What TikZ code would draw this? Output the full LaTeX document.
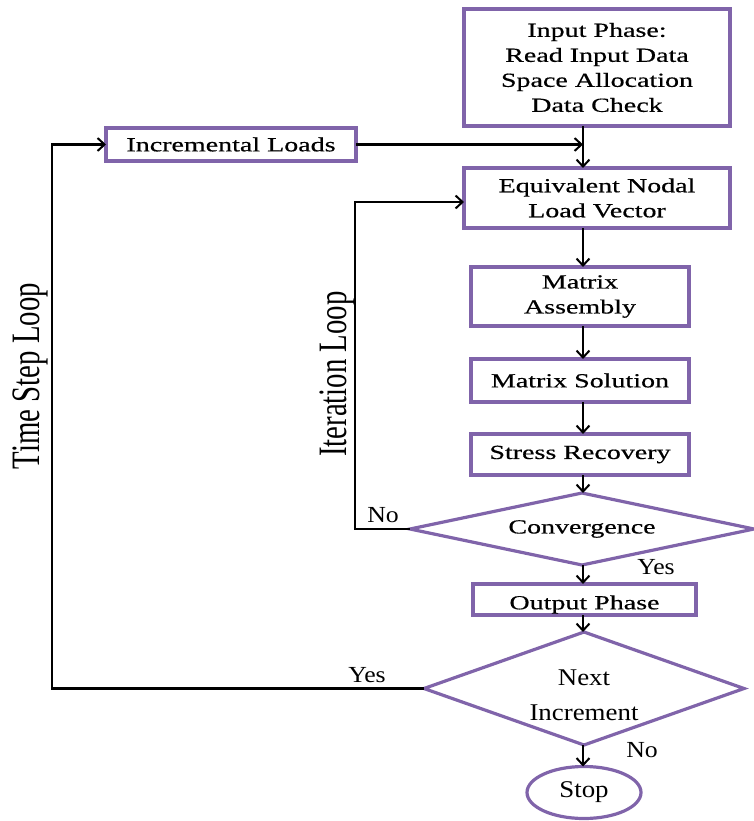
\documentclass[tikz,border=0pt]{standalone}
\usepackage{fontspec}
\setmainfont{Liberation Serif}[FakeStretch=1.4,FakeBold=0.5]
\newfontfamily\rotfont{Liberation Serif}
\newfontfamily\lblfont{Liberation Serif}[FakeStretch=1.12]
\usetikzlibrary{shapes.geometric,arrows.meta,calc}
\definecolor{boxpurple}{RGB}{128,100,170}
\begin{document}
\begin{tikzpicture}[x=1pt,y=-1pt,
  conn/.style={line width=2.2pt, draw=black},
  arr/.style={conn, -{Straight Barb[length=7pt,width=13pt,line width=2pt]}},
  box/.style={draw=boxpurple, line width=4.5pt, fill=white, rectangle, outer sep=0pt, inner sep=0pt, align=center, font=\fontsize{20}{25}\selectfont},
  dia/.style={draw=boxpurple, line width=3.2pt, diamond, outer sep=0pt, inner sep=0pt, align=center, font=\fontsize{20}{31}\selectfont},
  term/.style={draw=boxpurple, line width=3.2pt, ellipse, outer sep=0pt, inner sep=0pt, font=\lblfont\fontsize{24}{26}\selectfont},
  lbl/.style={font=\lblfont\fontsize{23}{25}\selectfont, inner sep=0pt},
  rot/.style={rotate=90, inner sep=0pt, font=\rotfont\fontsize{28.8}{30}\selectfont}
]
\useasboundingbox (0,0) rectangle (753,821);
\coordinate (spine) at (583,0);

\node[box, minimum width=266, minimum height=117] (input) at (597,67.5) {Input Phase:\\Read Input Data\\Space Allocation\\Data Check};
\node[box, minimum width=250, minimum height=33] (incr) at (231,144.5) {Incremental Loads};
\node[box, minimum width=266, minimum height=60] (equiv) at (597,198) {Equivalent Nodal\\Load Vector};
\node[box, minimum width=218, minimum height=59] (ma) at (580,296.5) {Matrix\\Assembly};
\node[box, minimum width=218, minimum height=43] (ms) at (580,380.5) {Matrix Solution};
\node[box, minimum width=218, minimum height=41] (sr) at (580,454.5) {Stress Recovery};
\node[dia, shape aspect=4.78, minimum width=344, minimum height=72] (conv) at (582,529) {Convergence};
\node[box, minimum width=223, minimum height=31] (out) at (584.5,599.5) {\raisebox{-5pt}[\height][\depth]{Output Phase}};
\node[dia, shape aspect=2.83, minimum width=320, minimum height=113, font=\lblfont\fontsize{24}{31}\selectfont] (next) at (584,688.5) {\raisebox{-8pt}[\height][\depth]{\begin{tabular}{@{}c@{}}Next\\[4pt]Increment\end{tabular}}};
\node[term, minimum width=114, minimum height=52] (stop) at (584,792.5) {Stop};

\draw[arr] (input.south -| spine) -- (equiv.north -| spine);
\draw[arr] (incr.east) -- (incr.east -| spine);
\draw[arr] (equiv.south -| spine) -- (ma.north -| spine);
\draw[arr] (ma.south -| spine) -- (ms.north -| spine);
\draw[arr] (ms.south -| spine) -- (sr.north -| spine);
\draw[arr] (sr.south -| spine) -- (conv.north -| spine);
\draw[arr] (conv.south -| spine) -- (out.north -| spine);
\draw[arr] (out.south -| spine) -- (next.north -| spine);
\draw[arr] (next.south -| spine) -- (stop.north -| spine);

\coordinate (itx) at (355,202);
\draw[arr] (conv.west) -| (itx) -- (itx -| equiv.west);
\coordinate (tsx) at (52,144.5);
\draw[arr] (next.west) -| (tsx) -- (incr.west);

\node[lbl] (no1) at (383,515) {No};
\node[lbl] (yes1) at (656,567) {Yes};
\node[lbl] (yes2) at (367,675) {Yes};
\node[lbl] (no2) at (642,750) {No};
\node[rot] (tsl) at (30,376) {\scalebox{1}[1.4]{Time Step Loop}};
\node[rot] (itl) at (337,374) {\scalebox{1}[1.4]{Iteration Loop}};
\end{tikzpicture}
\end{document}
